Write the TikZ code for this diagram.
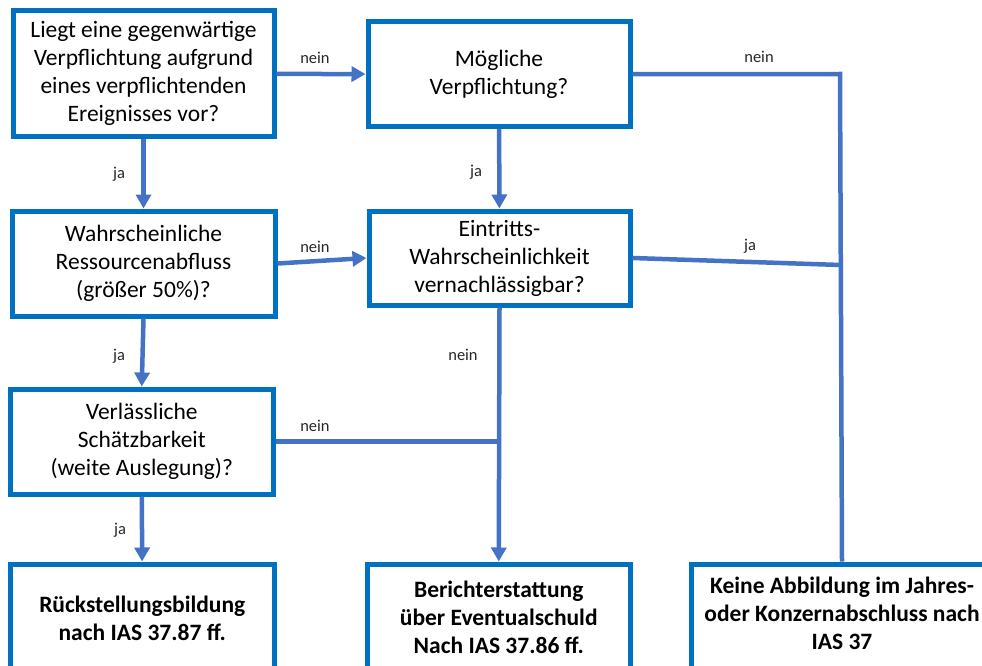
\documentclass[tikz,border=0pt]{standalone}
\usepackage{fontspec}
\setmainfont{Carlito}
\usetikzlibrary{arrows.meta}
\definecolor{boxblue}{HTML}{0070C0}
\definecolor{linkblue}{HTML}{4472C4}
\definecolor{labgray}{HTML}{262626}
\begin{document}
\begin{tikzpicture}[x=1pt,y=-1pt,
  box/.style={draw=boxblue, line width=5pt, fill=white, rectangle, inner sep=0pt,
    align=center, font=\fontsize{23.5}{28}\selectfont},
  endbox/.style={box, font=\fontsize{23.5}{28}\selectfont\bfseries},
  txt/.style={inner sep=0pt, align=center, font=\fontsize{23.5}{28}\selectfont\bfseries},
  flow/.style={draw=linkblue, line width=4.5pt},
  arr/.style={flow, -{Triangle[width=15pt,length=14pt]}},
  lab/.style={inner sep=0pt, text=labgray, font=\fontsize{16.5}{20}\selectfont}
]
\useasboundingbox (0,0) rectangle (982,666);
\clip (0,0) rectangle (982,666);

% decision boxes
\node[box, minimum width=261pt, minimum height=125.5pt] (b1) at (143.5,73.75)
  {Liegt eine gegenwärtige\\Verpflichtung aufgrund\\eines verpflichtenden\\Ereignisses vor?};
\node[box, minimum width=262pt, minimum height=104.5pt] (b2) at (499,74.25)
  {Mögliche\\Verpflichtung?};
\node[box, minimum width=263pt, minimum height=105pt] (b3) at (143.5,263.5)
  {Wahrscheinliche\\Ressourcenabfluss\\(größer 50\%)?};
\node[box, minimum width=261pt, minimum height=94pt] (b4) at (499.5,258)
  {Eintritts-\\Wahrscheinlichkeit\\vernachlässigbar?};
\node[box, minimum width=263.5pt, minimum height=105pt] (b5) at (141.75,441.5)
  {Verlässliche\\Schätzbarkeit\\(weite Auslegung)?};

% result boxes
\node[endbox, minimum width=263.5pt, minimum height=108pt] (b6) at (142.25,618)
  {Rückstellungsbildung\\nach IAS 37.87 ff.};
\node[endbox, minimum width=262.5pt, minimum height=106pt] (b7) at (498.75,617)
  {Berichterstattung\\über Eventualschuld\\Nach IAS 37.86 ff.};
\node[box, minimum width=302pt, minimum height=126pt] (b8) at (842,627) {};
\node[txt] (b8t) at (842,613)
  {Keine Abbildung im Jahres-\\oder Konzernabschluss nach\\IAS 37};

% junction points
\coordinate (c1) at (840,74);
\coordinate (c2) at (840.5,265);
\coordinate (c3) at (498.5,441.5);

% connectors
\draw[arr] (b1) -- (b2);
\draw[arr] (b1) -- (b3);
\draw[arr] (b2) -- (b4);
\draw[arr] (b3.east) -- (b4.west);
\draw[arr] (b3.south) -- (b5.north);
\draw[arr] (b5) -- (b6);
\draw[arr] (b4.south) -- (b7.north);
\draw[flow] (b5.east) -- (c3);
\draw[flow] (b2.east) -- (c1) -- (b8.north);
\draw[flow] (b4.east) -- (c2);

% connector labels
\node[lab] (n1) at (315,58) {nein};
\node[lab] (j1) at (119,174) {ja};
\node[lab] (n2) at (759,57) {nein};
\node[lab] (j2) at (476,172) {ja};
\node[lab] (n3) at (315,247) {nein};
\node[lab] (j3) at (119,356) {ja};
\node[lab] (j4) at (750,246) {ja};
\node[lab] (n4) at (463,355) {nein};
\node[lab] (n5) at (315,426) {nein};
\node[lab] (j5) at (120,530) {ja};
\end{tikzpicture}
\end{document}
